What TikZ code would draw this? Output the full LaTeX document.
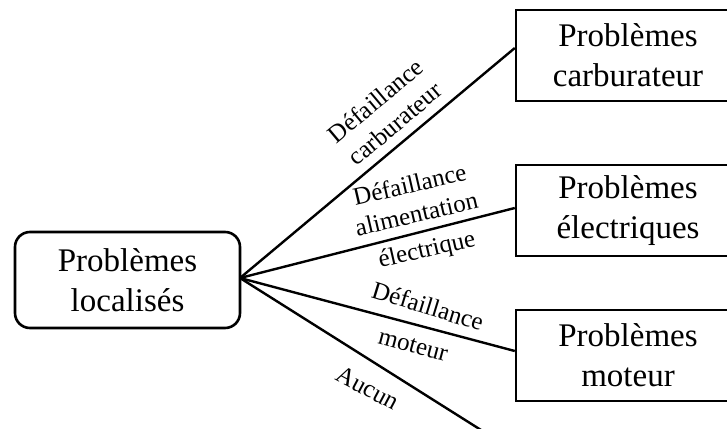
\documentclass[tikz,border=0pt]{standalone}
\usepackage{fontspec}
\setmainfont{Liberation Serif}
\begin{document}
\begin{tikzpicture}[x=1pt,y=-1pt,
  boxtext/.style={font=\fontsize{33}{40}\selectfont, align=center, inner sep=0pt},
  rootbox/.style={boxtext, draw, line width=2.6pt, rounded corners=15pt,
    minimum width=225pt, minimum height=96pt},
  leafbox/.style={boxtext, draw, line width=2.4pt,
    minimum width=224pt, minimum height=91pt},
  branch/.style={line width=2.4pt},
  elabel/.style={font=\fontsize{25}{30}\selectfont, align=center, inner sep=0pt}]
  \useasboundingbox (0,0) rectangle (727,428);
  \clip (0,0) rectangle (727,428);

  % root and leaf boxes
  \node[rootbox] (root) at (127.5,280) {Problèmes\\localisés};
  \node[leafbox] (carb) at (628,55.5) {Problèmes\\carburateur};
  \node[leafbox] (elec) at (628,210.5) {Problèmes\\électriques};
  \node[leafbox] (mot)  at (628,355.5) {Problèmes\\moteur};
  \coordinate (hub) at (240,278);
  \coordinate (none) at (481,430);

  % branches
  \draw[branch] (hub) -- ([yshift=7.5pt]carb.west);
  \draw[branch] (hub) -- ([yshift=2.5pt]elec.west);
  \draw[branch] (hub) -- ([yshift=4.5pt]mot.west);
  \draw[branch] (hub) -- (none);

  % branch labels
  \node[elabel, rotate=40] (l1) at (385,112) {Défaillance\\carburateur};
  \node[elabel, rotate=13] (l2) at (413,199) {Défaillance\\alimentation};
  \node[elabel, rotate=13] (l2b) at (427,251) {électrique};
  \node[elabel, rotate=-17] (l3) at (428,306) {Défaillance};
  \node[elabel, rotate=-15] (l3b) at (413,346) {moteur};
  \node[elabel, rotate=-28] (l4) at (368,388) {Aucun};
\end{tikzpicture}
\end{document}
